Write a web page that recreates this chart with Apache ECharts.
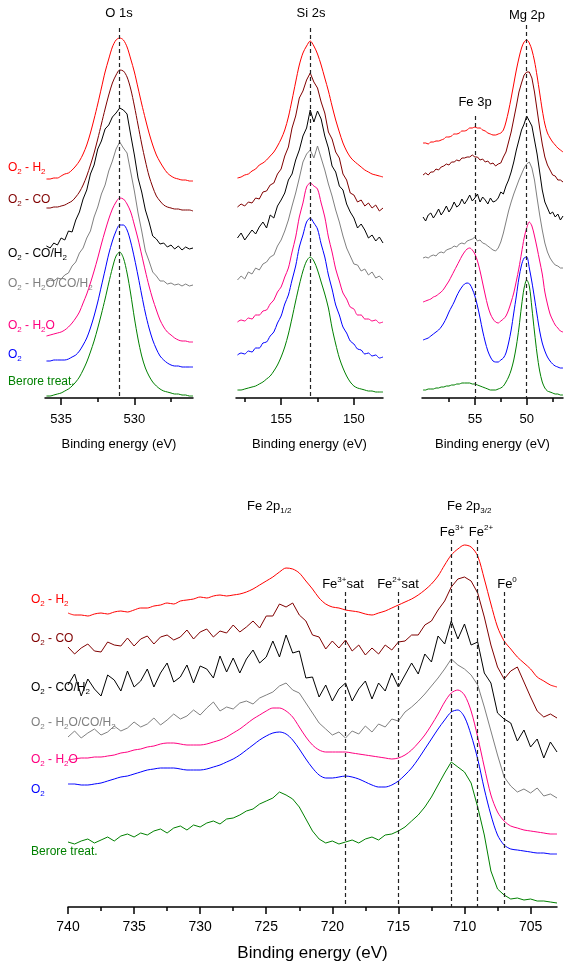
<!DOCTYPE html>
<html><head><meta charset="utf-8">
<script src="https://cdn.jsdelivr.net/npm/echarts@6/dist/echarts.min.js"></script>
<style>html,body{margin:0;padding:0;background:#fff}#c{width:565px;height:963px}</style>
</head><body><div id="c"></div>
<script>
// ---------- DATA (intensity in arbitrary units, stacked offsets as read) ----------
const seriesNames = ['O2 - H2','O2 - CO','O2 - CO/H2','O2 - H2O/CO/H2','O2 - H2O','O2','Berore treat.'];
const seriesColors = ['#ff0000','#800000','#000000','#808080','#ff0080','#0000ff','#008000'];

// O 1s
const o1sE = [536,535.75,535.5,535.25,535,534.75,534.5,534.25,534,533.75,533.5,533.25,533,532.75,532.5,532.25,532,531.75,531.5,531.25,531,530.75,530.5,530.25,530,529.75,529.5,529.25,529,528.75,528.5,528.25,528,527.75,527.5,527.25,527,526.75,526.5,526.25,526];
const o1sH2 = [219,219,220,220,222,224,225,228,232,237,244,253,265,279,294,310,326,339,351,358,360,358,351,339,326,310,294,279,265,253,243,236,230,225,222,220,219,218,218,217,217];
const o1sCO = [190,190,191,191,192,193,195,197,201,206,213,222,233,245,259,274,289,303,315,323,328,327,321,309,292,273,254,237,222,211,202,197,193,191,190,189,189,188,188,188,187];
const o1sCOH2 = [152,150,155,153,160,158,167,166,178,186,199,208,224,233,249,257,269,273,281,285,290,288,284,263,243,220,206,188,176,162,159,154,155,151,153,149,152,148,151,149,150];
const o1sMix = [116,118,117,120,119,123,125,132,136,145,150,160,167,181,191,204,213,227,237,249,256,250,245,226,207,185,167,147,137,126,122,117,117,114,115,113,114,112,114,112,113];
const o1sH2O = [62,63,64,65,66,68,71,75,80,86,95,104,115,127,140,154,167,179,189,196,200,199,194,186,173,159,143,127,112,99,88,78,71,66,63,60,58,57,57,56,56];
const o1sO2 = [37,37,38,38,38,38,39,41,43,47,53,60,70,82,96,112,128,144,157,167,173,173,168,156,140,122,103,85,70,58,49,42,38,35,33,32,32,31,31,31,31];
const o1sRaw = [2,2,3,4,5,7,9,12,16,21,28,36,46,57,70,84,99,115,130,142,146,140,125,104,80,59,42,30,22,16,12,9,7,6,5,4,4,3,3,2,2];

// Si 2s
const siE = [158,157.75,157.5,157.25,157,156.75,156.5,156.25,156,155.75,155.5,155.25,155,154.75,154.5,154.25,154,153.75,153.5,153.25,153,152.75,152.5,152.25,152,151.75,151.5,151.25,151,150.75,150.5,150.25,150,149.75,149.5,149.25,149,148.75,148.5,148.25,148];
const siH2 = [220,221,223,224,227,229,233,235,238,242,246,252,259,268,281,298,316,333,345,352,357,352,344,333,320,307,292,278,266,255,247,241,237,234,231,228,226,224,223,222,221];
const siCO = [191,194,192,196,195,200,199,206,207,213,215,224,229,242,251,270,282,300,307,318,325,316,310,296,285,266,259,246,240,224,218,205,203,196,198,192,195,190,193,187,190];
const siCOH2 = [160,165,158,163,168,164,171,176,170,183,180,192,198,205,218,224,238,248,262,270,288,276,287,279,262,250,232,226,212,208,194,186,180,170,174,168,160,163,157,161,155];
const siMix = [118,122,119,126,124,130,128,134,136,141,143,152,158,167,178,192,205,220,236,244,248,240,252,240,228,214,202,188,176,162,150,142,134,133,127,129,123,126,120,122,118];
const siH2O = [76,78,77,80,79,83,83,87,88,94,98,106,111,121,130,146,161,181,195,211,215,212,209,195,181,161,146,129,117,105,99,91,89,83,83,79,79,77,78,75,76];
const siO2 = [43,45,44,47,46,50,50,55,56,62,66,75,82,94,103,118,132,151,163,176,180,175,169,154,141,123,109,93,83,71,65,57,54,49,48,44,45,42,43,40,41];
const siRaw = [8,8,9,10,11,12,14,16,19,22,27,33,41,51,64,80,97,113,127,137,141,137,128,116,104,90,70,54,40,30,22,16,12,10,9,8,7,7,6,6,6];

// Mg 2p / Fe 3p
const mgE = [60,59.75,59.5,59.25,59,58.75,58.5,58.25,58,57.75,57.5,57.25,57,56.75,56.5,56.25,56,55.75,55.5,55.25,55,54.75,54.5,54.25,54,53.75,53.5,53.25,53,52.75,52.5,52.25,52,51.75,51.5,51.25,51,50.75,50.5,50.25,50,49.75,49.5,49.25,49,48.75,48.5,48.25,48,47.75,47.5,47.25,47,46.75,46.5];
const mgH2 = [255,255,254,256,256,257,257,258,259,261,261,262,264,264,265,267,267,268,270,270,271,270,270,268,267,265,264,263,263,264,265,268,276,287,300,314,328,340,350,356,358,355,348,337,322,305,288,274,265,260,256,253,250,248,246];
const mgCO = [223,225,223,226,226,229,228,231,232,234,233,236,236,238,237,240,240,241,241,243,241,241,238,239,236,237,234,235,232,234,235,241,246,256,266,279,292,306,315,323,326,326,320,306,288,270,254,241,233,228,223,222,218,218,216];
const mgCOH2 = [181,177,183,185,180,184,189,183,187,192,186,190,196,191,193,199,194,198,203,197,200,204,196,201,198,194,200,196,197,200,206,204,212,218,226,236,248,258,268,274,282,277,272,258,244,226,208,196,190,184,186,181,184,178,182];
const mgMix = [140,141,140,142,143,142,145,146,145,148,149,150,152,151,154,155,154,157,158,159,161,157,158,155,154,152,150,148,147,150,156,165,176,187,196,204,211,218,224,230,234,236,230,218,200,183,168,155,146,140,136,133,132,130,130];
const mgH2O = [96,97,98,99,101,102,104,106,109,113,117,122,127,132,137,142,146,149,150,148,144,137,127,115,103,92,84,79,76,75,77,79,82,88,96,105,117,130,145,160,170,176,172,162,150,137,124,106,94,84,78,73,70,67,66];
const mgO2 = [58,59,60,62,64,66,68,71,75,80,86,91,96,102,107,111,114,115,114,109,102,92,80,67,56,47,41,37,36,36,38,40,45,55,68,85,102,120,133,140,141,130,116,100,83,67,55,47,41,37,34,32,31,30,30];
const mgRaw = [8,8,9,9,9,10,10,11,11,12,12,13,13,14,14,15,15,15,15,14,14,13,12,11,10,9,8,8,8,9,10,12,16,21,28,38,52,70,92,110,118,112,90,66,44,27,16,10,7,6,5,4,4,3,3];

// Fe 2p
const feE = [740,739.5,739,738.5,738,737.5,737,736.5,736,735.5,735,734.5,734,733.5,733,732.5,732,731.5,731,730.5,730,729.5,729,728.5,728,727.5,727,726.5,726,725.5,725,724.5,724,723.5,723,722.5,722,721.5,721,720.5,720,719.5,719,718.5,718,717.5,717,716.5,716,715.5,715,714.5,714,713.5,713,712.5,712,711.5,711,710.5,710,709.5,709,708.5,708,707.5,707,706.5,706,705.5,705,704.5,704,703.5,703];
const feH2 = [294,292,292,291,293,294,293,295,296,295,297,299,299,301,302,304,303,306,307,308,310,309,311,312,311,312,313,315,318,322,326,330,335,339,338,334,326,318,309,303,300,299,297,296,295,293,292,294,296,299,302,305,308,312,317,323,331,342,352,358,362,360,351,328,303,280,266,258,250,244,238,230,226,222,220];
const feCO = [260,253,259,263,256,255,265,262,261,269,261,268,271,263,270,272,267,270,277,268,275,278,270,276,274,282,275,280,286,279,291,291,303,300,304,292,286,272,270,258,266,259,267,256,262,252,259,253,262,257,265,266,272,272,282,286,297,306,320,328,330,326,314,290,262,240,228,236,240,225,210,196,190,193,189];
const feCOH2 = [222,233,211,228,218,211,232,227,216,236,220,226,238,220,234,244,225,230,242,224,241,238,229,251,235,249,234,248,257,244,250,266,250,272,254,256,229,230,210,222,206,218,224,206,218,226,208,224,216,234,220,232,244,233,253,245,271,263,286,268,283,262,265,234,224,194,188,184,166,177,160,168,149,165,155];
const feMix = [170,176,169,174,178,172,175,181,176,179,185,180,183,189,182,187,193,188,191,197,192,199,205,196,200,198,204,206,203,209,212,215,221,224,217,214,204,194,184,178,172,175,169,176,173,181,175,183,180,188,186,195,200,206,213,221,229,238,248,242,238,232,222,200,176,152,130,121,115,118,114,119,111,113,109];
const feH2O = [147,148,149,149,150,150,151,152,154,155,157,158,160,161,163,164,164,163,162,162,162,163,165,167,170,174,178,183,188,192,196,199,199,196,190,180,170,162,157,155,155,155,155,154,153,152,151,150,149,148,149,152,157,164,172,182,193,205,214,217,212,196,170,140,112,95,86,81,79,77,76,75,74,73,73];
const feO2 = [123,123,122,122,123,124,126,128,130,131,133,135,137,138,139,139,139,138,137,137,137,138,140,142,145,148,152,157,162,167,171,174,175,173,167,158,148,139,132,129,129,130,131,130,128,125,122,120,120,122,126,132,139,148,158,168,178,187,195,197,190,172,148,118,92,72,62,58,57,56,55,54,54,53,53];
const feRaw = [65,63,66,68,64,67,70,66,71,73,70,74,72,76,78,74,79,81,77,82,80,84,86,83,88,89,92,96,98,103,106,109,115,112,108,100,88,76,68,64,66,63,65,67,64,68,70,67,72,73,76,80,86,92,100,110,122,134,145,140,135,124,100,72,36,18,12,8,9,7,8,6,6,5,4];

// Dashed reference lines (energies)
const o1sMarks = [531.0];
const siMarks = [153.0];
const mgMarks = [50.0, 55.0];
const feMarks = [719, 715, 711, 709, 707];

// Tick values
const o1sTicks = [530, 535], o1sMinor = [527.5, 532.5];
const siTicks = [150, 155], siMinor = [152.5, 157.5];
const mgTicks = [50, 55], mgMinor = [47.5, 52.5, 57.5];
const feTicks = [705, 710, 715, 720, 725, 730, 735, 740];
const feMinor = [707.5, 712.5, 717.5, 722.5, 727.5, 732.5, 737.5];

// ---------- LAYOUT ----------
const FONT = "'Liberation Sans', Arial, sans-serif";
const panels = [
  {E:o1sE, S:[o1sH2,o1sCO,o1sCOH2,o1sMix,o1sH2O,o1sO2,o1sRaw], min:526, max:536.1, ticks:o1sTicks, minor:o1sMinor,
   raw:[false,false,true,true,false,false,false],
   grid:{left:45, top:20, width:148, height:378}, ymax:378, marks:o1sMarks, markTop:[370], lab:13, name:13, gap:40, margin:15},
  {E:siE, S:[siH2,siCO,siCOH2,siMix,siH2O,siO2,siRaw], min:148, max:158.1, ticks:siTicks, minor:siMinor,
   raw:[false,true,true,true,false,false,false],
   grid:{left:236, top:20, width:147, height:378}, ymax:378, marks:siMarks, markTop:[370], lab:13, name:13, gap:40, margin:15},
  {E:mgE, S:[mgH2,mgCO,mgCOH2,mgMix,mgH2O,mgO2,mgRaw], min:46.5, max:60.1, ticks:mgTicks, minor:mgMinor,
   raw:[false,true,true,true,false,false,false],
   grid:{left:422, top:20, width:141, height:378}, ymax:378, marks:mgMarks, markTop:[373, 282], lab:13, name:13, gap:40, margin:15},
  {E:feE, S:[feH2,feCO,feCOH2,feMix,feH2O,feO2,feRaw], min:703, max:740, ticks:feTicks, minor:feMinor,
   raw:[false,true,true,true,false,false,true],
   grid:{left:68, top:500, width:489, height:407}, ymax:407, marks:feMarks, markTop:[315,315,367,367,315], lab:14, name:17, gap:38, margin:13}
];

const grids = [], xAxes = [], yAxes = [], series = [];
panels.forEach((p, i) => {
  grids.push(Object.assign({containLabel:false}, p.grid));
  xAxes.push({
    gridIndex:i, type:'value', min:p.min, max:p.max, inverse:true, position:'bottom',
    axisLine:{show:true, onZero:false, lineStyle:{color:'#000', width:1.5}},
    axisTick:{show:true, inside:false, length:7, customValues:p.ticks, lineStyle:{color:'#000', width:1.5}},
    axisLabel:{show:true, customValues:p.ticks, fontSize:p.lab, color:'#000', margin:p.margin, fontFamily:FONT},
    splitLine:{show:false},
    name:'Binding energy (eV)', nameLocation:'middle', nameGap:p.gap,
    nameTextStyle:{fontSize:p.name, color:'#000', fontFamily:FONT}
  });
  xAxes.push({
    gridIndex:i, type:'value', min:p.min, max:p.max, inverse:true, position:'bottom',
    axisLine:{show:false},
    axisTick:{show:true, inside:false, length:4, customValues:p.minor, lineStyle:{color:'#000', width:1.5}},
    axisLabel:{show:false}, splitLine:{show:false}
  });
  yAxes.push({gridIndex:i, type:'value', min:0, max:p.ymax, show:false});
  p.S.forEach((vals, k) => {
    const s = {
      type:'line', xAxisIndex:2*i, yAxisIndex:i, name:seriesNames[k],
      data:p.E.map((e, j) => [e, vals[j]]),
      showSymbol:false, symbol:'none', smooth:p.raw[k] ? false : 0.3,
      lineStyle:{color:seriesColors[k], width:1}, z:3, silent:true
    };
    if (k === 6) {
      s.markLine = {
        symbol:'none', silent:true, label:{show:false},
        lineStyle:{color:'#222', width:1.2, type:[4,3]},
        data:p.marks.map((m, q) => [{coord:[m, p.markTop[q]]}, {coord:[m, 0]}])
      };
    }
    series.push(s);
  });
});

// ---------- TEXT LABELS ----------
function rich(fs) {
  return {
    n:{fontSize:fs, lineHeight:fs+4, fontFamily:FONT},
    s:{fontSize:Math.round(fs*0.65), lineHeight:Math.round(fs*0.65), padding:[Math.round(fs*0.7),0,0,0], fontFamily:FONT},
    p:{fontSize:Math.round(fs*0.65), lineHeight:Math.round(fs*0.65), padding:[0,0,Math.round(fs*0.7),0], fontFamily:FONT}
  };
}
const labelTexts = ['{n|O}{s|2}{n| - H}{s|2}','{n|O}{s|2}{n| - CO}','{n|O}{s|2}{n| - CO/H}{s|2}',
  '{n|O}{s|2}{n| - H}{s|2}{n|O/CO/H}{s|2}','{n|O}{s|2}{n| - H}{s|2}{n|O}','{n|O}{s|2}','{n|Berore treat.}'];
const topLabelY = [168,200,254,284,326,355,382];
const feLabelY = [600,639,688,723,760,790,852];

const graphics = [];
labelTexts.forEach((t, k) => {
  graphics.push({type:'text', x:8, y:topLabelY[k], silent:true,
    style:{text:t, rich:rich(12), fill:seriesColors[k], align:'left', verticalAlign:'middle', textAlign:'left', textVerticalAlign:'middle'}});
  graphics.push({type:'text', x:31, y:feLabelY[k], silent:true,
    style:{text:t, rich:rich(12), fill:seriesColors[k], align:'left', verticalAlign:'middle', textAlign:'left', textVerticalAlign:'middle'}});
});
const annots = [
  ['{n|O 1s}', 119, 13, 'center'], ['{n|Si 2s}', 311, 13, 'center'], ['{n|Mg 2p}', 527, 15, 'center'],
  ['{n|Fe 3p}', 475, 102, 'center'],
  ['{n|Fe 2p}{s|1/2}', 247, 506, 'left'], ['{n|Fe 2p}{s|3/2}', 447, 506, 'left'],
  ['{n|Fe}{p|3+}', 452, 532, 'center'], ['{n|Fe}{p|2+}', 481, 532, 'center'],
  ['{n|Fe}{p|3+}{n|sat}', 343, 584, 'center'], ['{n|Fe}{p|2+}{n|sat}', 398, 584, 'center'],
  ['{n|Fe}{p|0}', 507, 584, 'center']
];
annots.forEach(a => {
  graphics.push({type:'text', x:a[1], y:a[2], silent:true,
    style:{text:a[0], rich:rich(13), fill:'#000', align:a[3], verticalAlign:'middle', textAlign:a[3], textVerticalAlign:'middle'}});
});

const chart = echarts.init(document.getElementById('c'), null, {renderer:'canvas'});
chart.setOption({
  animation:false, backgroundColor:'#fff',
  grid:grids, xAxis:xAxes, yAxis:yAxes, series:series, graphic:graphics
});
</script></body></html>
